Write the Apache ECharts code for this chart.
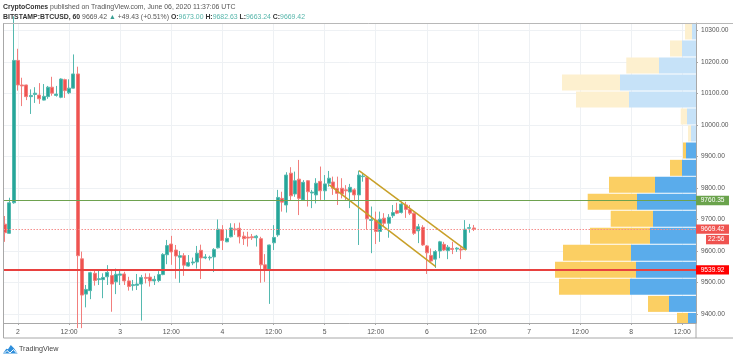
<!DOCTYPE html>
<html>
<head>
<meta charset="utf-8">
<style>html,body{margin:0;padding:0;background:#fff}#c{width:736px;height:359px}</style>
<script src="https://cdn.jsdelivr.net/npm/echarts@6/dist/echarts.min.js"></script>
</head>
<body>
<div id="c"></div>
<script>
// Hourly candles: first one is 3 hours before 2 June 2020 00:00 UTC
const firstCandleHour = -3;
const opens = [9685,9656,9753,10205,10127,10127,10090,10097,10095,10079,10090,10120,10094,10088,10144,10102,10117,10162,9575,9463,9474,9529,9509,9509,9518,9522,9502,9523,9527,9505,9490,9491,9495,9516,9517,9505,9506,9525,9588,9622,9603,9580,9585,9552,9562,9565,9602,9578,9578,9581,9610,9668,9629,9645,9670,9672,9647,9644,9645,9642,9639,9556,9542,9626,9651,9767,9746,9847,9781,9828,9762,9823,9784,9778,9821,9791,9815,9819,9799,9799,9794,9787,9794,9778,9836,9834,9697,9698,9662,9704,9688,9712,9728,9722,9746,9732,9720,9664,9675,9616,9586,9574,9600,9621,9601,9608,9606,9606,9605,9672,9673];
const closes = [9658,9753,10205,10127,10124,10090,10094,10101,10083,10091,10120,10101,10098,10146,10109,10117,10162,9585,9460,9478,9531,9506,9512,9516,9532,9495,9526,9527,9505,9487,9493,9495,9516,9513,9505,9510,9525,9589,9617,9597,9584,9585,9555,9563,9565,9593,9578,9581,9580,9605,9669,9633,9640,9673,9667,9645,9639,9641,9642,9647,9556,9542,9619,9643,9770,9755,9841,9775,9823,9767,9818,9788,9787,9815,9791,9813,9831,9799,9783,9781,9791,9802,9778,9841,9838,9702,9700,9662,9701,9688,9707,9722,9720,9749,9732,9720,9656,9677,9619,9594,9568,9598,9629,9603,9612,9605,9609,9603,9669,9674,9669.42];
const lows = [9629,9655,9750,10109,10060,10079,10035,10070,10067,10078,10083,10093,10090,10085,10086,10098,10116,9355,9355,9421,9447,9490,9492,9450,9492,9407,9463,9492,9492,9474,9474,9476,9379,9497,9487,9492,9501,9523,9558,9556,9512,9499,9521,9550,9555,9544,9511,9574,9570,9533,9608,9603,9628,9643,9651,9624,9619,9614,9635,9614,9499,9502,9432,9603,9645,9725,9722,9762,9772,9714,9760,9741,9736,9751,9762,9762,9804,9778,9746,9767,9762,9736,9762,9619,9820,9667,9593,9622,9629,9677,9642,9705,9717,9719,9705,9714,9651,9625,9616,9527,9563,9546,9577,9600,9574,9590,9597,9574,9603,9658,9663.24];
const highs = [9711,9769,10345,10242,10150,10128,10113,10120,10133,10130,10124,10153,10124,10148,10147,10145,10224,10185,9598,9492,9534,9542,9540,9529,9555,9540,9544,9542,9534,9518,9508,9527,9524,9529,9529,9521,9536,9593,9635,9648,9619,9600,9593,9587,9579,9616,9620,9590,9585,9609,9700,9682,9669,9688,9688,9690,9661,9661,9654,9651,9645,9590,9620,9682,9794,9788,9850,9866,9852,9889,9825,9825,9794,9831,9868,9841,9854,9836,9836,9831,9809,9813,9799,9855,9847,9836,9741,9725,9725,9720,9717,9746,9753,9756,9756,9746,9722,9686,9682,9619,9608,9603,9632,9629,9619,9629,9612,9612,9698,9686,9682.63];

// Volume profile rows, top to bottom
const profilePrices = [10297,10243,10189,10135,10081,10027,9973,9919,9864,9810,9756,9702,9648,9594,9540,9486,9432,9378];
const profileDown   = [4,14,37,76,67,9,5,10,14,41,59,43,46,65,60,66,27,8];
const profileUp     = [7,12,32.7,58,53,6.3,3,3,12,46,49.3,42.3,60,68,81,71,21,11];
const valueAreaHigh = 9945;
const profileRowHalf = 25.4;

// Horizontal levels
const greenLevel = 9760.35, redLevel = 9539.92, lastPrice = 9669.42;
const lastPriceCountdown = '22:56';

// Falling channel: [hour, price] end points
const channelUpper = [[80.08, 9855], [105.2, 9603]];
const channelLower = [[73.1, 9810], [98.1, 9550]];

const HOUR = 3600000, T0 = Date.UTC(2020, 5, 2);
const t = h => T0 + h * HOUR;
const TEAL = '#26a69a', RED = '#ef5350', GREY = '#555';
const FONT = '"Liberation Sans", Arial, sans-serif';
const candleData = opens.map((o, i) => [t(firstCandleHour + i), o, closes[i], lows[i], highs[i]]);

const chart = echarts.init(document.getElementById('c'), null, {renderer: 'canvas'});
const FS = 6.9;
const rs = (color, extra) => Object.assign({fontSize: FS, color, fontFamily: FONT, fontWeight: 'normal', lineHeight: 10}, extra || {});
const channelSeries = (name, pts) => ({
  name, type: 'line', data: pts.map(p => [t(p[0]), p[1]]), symbol: 'none', silent: true, z: 4,
  lineStyle: {color: '#c8a028', width: 1.5}
});

chart.setOption({
  animation: false,
  useUTC: true,
  backgroundColor: '#fff',
  title: [{
    left: 3, top: 2, padding: 0, itemGap: 0,
    text: '{b|CryptoComes} {n|published on TradingView.com, June 06, 2020 11:37:06 UTC}',
    textStyle: {fontWeight: 'normal', fontSize: FS, rich: {b: rs('#333', {fontWeight: 'bold'}), n: rs('#555')}}
  }, {
    left: 3, top: 12, padding: 0, itemGap: 0,
    text: '{b|BITSTAMP:BTCUSD, 60} {n|9669.42} {v|▲} {n|+49.43 (+0.51%)} {b|O:}{u|9673.00} {b|H:}{u|9682.63} {b|L:}{u|9663.24} {b|C:}{u|9669.42}',
    textStyle: {fontWeight: 'normal', fontSize: FS, rich: {b: rs('#333', {fontWeight: 'bold'}), n: rs('#555'), v: rs('#3a9f94'), u: rs('#55b5aa')}}
  }],
  grid: {left: 3.5, right: 40, top: 23, bottom: 36, containLabel: false},
  xAxis: [{
    type: 'time', min: t(-3.4), max: t(159.2), splitNumber: 12,
    axisLine: {lineStyle: {color: '#a8a8a8'}},
    axisTick: {length: 2, lineStyle: {color: '#a8a8a8'}},
    splitLine: {show: true, lineStyle: {color: '#eef1f4', width: 1}},
    minorSplitLine: {show: false},
    axisLabel: {
      color: GREY, fontSize: 6.8, fontFamily: FONT, margin: 6,
      showMinLabel: false, showMaxLabel: false, hideOverlap: false,
      formatter: v => {
        const d = new Date(v);
        return d.getUTCHours() === 0 ? String(d.getUTCDate()) : '12:00';
      }
    }
  }, {
    type: 'value', min: 0, max: 692.5, inverse: true, show: false
  }],
  yAxis: {
    type: 'value', position: 'right', min: 9371.3, max: 10323.8, splitNumber: 10,
    axisLine: {show: true, lineStyle: {color: '#a8a8a8'}},
    axisTick: {show: true, length: 2, lineStyle: {color: '#a8a8a8'}},
    splitLine: {show: true, lineStyle: {color: '#eef1f4', width: 1}},
    axisLabel: {
      color: GREY, fontSize: 6.6, fontFamily: FONT, margin: 5,
      showMinLabel: false, showMaxLabel: false,
      formatter: v => v.toFixed(2)
    }
  },
  series: [{
    name: 'profile', type: 'custom', xAxisIndex: 1, z: 1, silent: true, clip: true,
    data: profilePrices.map((p, i) => [profileDown[i], p, profileUp[i]]),
    encode: {x: 0, y: 1},
    renderItem(params, api) {
      const price = api.value(1), down = api.value(0), up = api.value(2);
      const dark = price <= valueAreaHigh;
      const cs = params.coordSys;
      const clip = r => echarts.graphic.clipRectByRect(r, {x: cs.x, y: cs.y, width: cs.width, height: cs.height});
      const yTop = api.coord([0, price + profileRowHalf])[1];
      const yBot = api.coord([0, price - profileRowHalf])[1];
      const x0 = api.coord([0, price])[0];
      const x1 = api.coord([down, price])[0];
      const x2 = api.coord([down + up, price])[0];
      const r1 = clip({x: x1, y: yTop, width: x0 - x1, height: yBot - yTop});
      const r2 = clip({x: x2, y: yTop, width: x1 - x2, height: yBot - yTop});
      return {type: 'group', children: [
        {type: 'rect', shape: r1, style: {fill: dark ? '#5aaceb' : '#c6e2f8'}},
        {type: 'rect', shape: r2, style: {fill: dark ? '#fbcf63' : '#fdf0cf'}}
      ]};
    }
  }, {
    name: 'BTCUSD', type: 'candlestick', data: candleData, barWidth: 3.5, z: 3, silent: true,
    encode: {x: 0, y: [1, 2, 3, 4]},
    itemStyle: {color: TEAL, color0: RED, borderColor: '#55b9af', borderColor0: '#f27f7d', borderWidth: 1},
    markLine: {
      silent: true, symbol: 'none', animation: false, label: {show: false},
      data: [
        {yAxis: greenLevel, lineStyle: {color: '#6ea24f', width: 1, type: 'solid'}},
        {yAxis: lastPrice, lineStyle: {color: '#f58f8d', width: 1, type: [1.5, 1.5]}},
        {yAxis: redLevel, lineStyle: {color: '#e8413f', width: 1.8, type: 'solid'}}
      ]
    }
  },
  channelSeries('channelUpper', channelUpper),
  channelSeries('channelLower', channelLower),
  {
    name: 'tags', type: 'custom', z: 6, silent: true, clip: false,
    data: [
      [greenLevel, greenLevel.toFixed(2), '#6aa34c', 33, 0],
      [lastPrice, lastPrice.toFixed(2), '#ef5350', 33, 0],
      [lastPrice, lastPriceCountdown, '#ef5350', 23, 10.5],
      [redLevel, redLevel.toFixed(2), '#ff0000', 33, 0]
    ],
    encode: {y: 0},
    renderItem(params, api) {
      const cs = params.coordSys;
      const y = api.coord([t(0), api.value(0)])[1] + api.value(4);
      const right = cs.x + cs.width + 33;
      const w = api.value(3);
      const labels = [greenLevel.toFixed(2), lastPrice.toFixed(2), lastPriceCountdown, redLevel.toFixed(2)];
      return {type: 'group', children: [
        {type: 'rect', shape: {x: right - w, y: y - 4.7, width: w, height: 9.4}, style: {fill: api.value(2)}},
        {type: 'text', style: {x: right - 4.5, y: y, text: labels[params.dataIndex],
          fill: '#fff', font: '6.6px ' + FONT, align: 'right', verticalAlign: 'middle'}}
      ]};
    }
  }],
  graphic: [
    {type: 'line', silent: true, z: 10, shape: {x1: 3.5, y1: 23, x2: 3.5, y2: 338}, style: {stroke: '#a8a8a8', lineWidth: 1}},
    {type: 'line', silent: true, z: 10, shape: {x1: 3.5, y1: 23.5, x2: 733, y2: 23.5}, style: {stroke: '#b8b8b8', lineWidth: 1}},
    {type: 'line', silent: true, z: 10, shape: {x1: 3.5, y1: 338, x2: 733, y2: 338}, style: {stroke: '#a8a8a8', lineWidth: 1}},
    {type: 'line', silent: true, z: 10, shape: {x1: 696, y1: 323, x2: 696, y2: 338}, style: {stroke: '#a8a8a8', lineWidth: 1}},
    {type: 'polygon', silent: true, z: 10, shape: {points: [[3,353.5],[6.3,348.7],[8,349.3],[10.8,345],[14,348.2],[17.6,353.5]]}, style: {fill: '#2f8fdc'}},
    {type: 'polyline', silent: true, z: 11, shape: {points: [[4.5,353],[7,350.5],[10,353],[13.5,349.5],[16.5,353]]}, style: {stroke: '#fff', lineWidth: 1, fill: null}},
    {type: 'text', silent: true, z: 10, x: 19, y: 349, style: {text: 'TradingView', fill: '#444', font: '7.2px ' + FONT, verticalAlign: 'middle'}}
  ]
});
</script>
</body>
</html>
